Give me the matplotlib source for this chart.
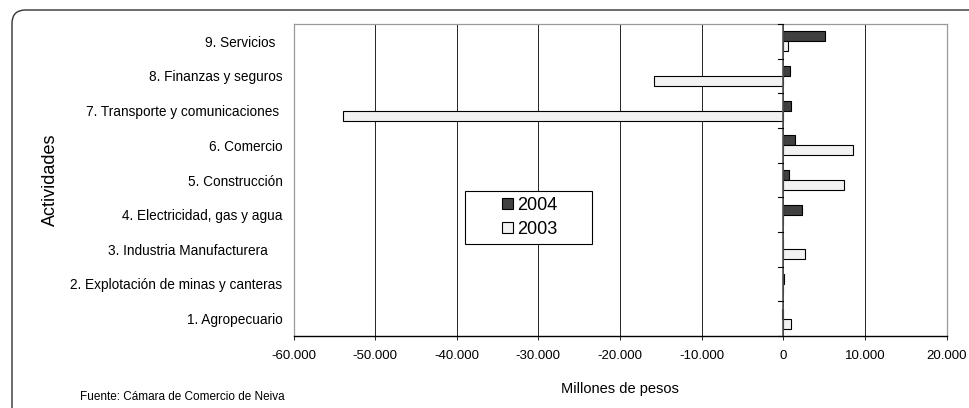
import matplotlib

matplotlib.use("Agg")
import matplotlib.pyplot as plt
import numpy as np
from matplotlib.patches import FancyBboxPatch, Patch, Rectangle
from matplotlib.ticker import FuncFormatter

plt.rcParams["font.family"] = ["Liberation Sans", "DejaVu Sans"]

# categories bottom -> top
actividades = [
    "1. Agropecuario",
    "2. Explotación de minas y canteras",
    "3. Industria Manufacturera    ",
    "4. Electricidad, gas y agua",
    "5. Construcción",
    "6. Comercio",
    "7. Transporte y comunicaciones ",
    "8. Finanzas y seguros",
    "9. Servicios  ",
]
valores_2004 = [-150, 150, 0, 2350, 700, 1400, 1000, 850, 5150]
valores_2003 = [1000, 0, 2650, 0, 7500, 8500, -53900, -15800, 550]
x_ticks = list(range(-60000, 20001, 10000))

W, H = 969, 408
fig = plt.figure(figsize=(W / 100, H / 100), dpi=100, facecolor="white")

# rounded frame around the chart (cut by the right and bottom edges)
frame = FancyBboxPatch((12 / W, -0.05), 1.05, 1.05 - 10 / H,
                       boxstyle="round,pad=0,rounding_size=0.014",
                       transform=fig.transFigure, facecolor="none",
                       edgecolor="#333333", linewidth=1.0,
                       mutation_aspect=W / H, zorder=10)
fig.patches.append(frame)

ax = fig.add_axes([293.5 / W, 1 - 336 / H, 653 / W, 312 / H])
ax.set_facecolor("white")

y = np.arange(len(actividades))
h = 0.29
ax.barh(y + h / 2, valores_2004, height=h, color="#404040", edgecolor="black",
        linewidth=0.8, label="2004", zorder=3)
ax.barh(y - h / 2, valores_2003, height=h, color="#f2f2f2", edgecolor="black",
        linewidth=0.8, label="2003", zorder=3)

ax.set_xlim(-60000, 20000)
ax.set_ylim(-0.5, len(actividades) - 0.5)
ax.set_xticks(x_ticks)
ax.xaxis.set_major_formatter(FuncFormatter(lambda v, p: f"{int(v):,}".replace(",", ".")))
ax.tick_params(axis="x", labelsize=9.5, length=3, width=0.6, pad=7)
ax.set_yticks(y)
ax.set_yticklabels(actividades, fontsize=9.8)
ax.tick_params(axis="y", length=0, pad=8)

ax.grid(axis="x", color="black", linewidth=0.6, zorder=0)
for s in ["top", "left", "right"]:
    ax.spines[s].set_color("#999999")
    ax.spines[s].set_linewidth(0.9)
ax.spines["bottom"].set_color("black")
ax.spines["bottom"].set_linewidth(1.0)

# category axis at zero with boundary ticks
ax.axvline(0, color="#555555", linewidth=1.2, zorder=4)
for b in np.arange(len(actividades) + 1) - 0.5:
    ax.plot([-600, 0], [b, b], color="black", linewidth=0.8, zorder=4, clip_on=False)

fig.text(50 / W, 1 - 180 / H, "Actividades", fontsize=13, rotation=90,
         ha="center", va="center")
fig.text(620 / W, 1 - 389 / H, "Millones de pesos", fontsize=10.5, ha="center", va="center")
fig.text(80 / W, 1 - 397 / H, "Fuente: Cámara de Comercio de Neiva", fontsize=8.5,
         ha="left", va="center")

# legend box (Excel-style wide frame)
ax.add_patch(Rectangle((0.263, 0.295), 0.194, 0.170, transform=ax.transAxes,
                       facecolor="white", edgecolor="black", linewidth=0.8, zorder=5))
handles = [Patch(facecolor="#404040", edgecolor="black", linewidth=0.8),
           Patch(facecolor="#f2f2f2", edgecolor="black", linewidth=0.8)]
leg = ax.legend(handles, ["2004", "2003"], loc="center", bbox_to_anchor=(0.362, 0.380),
                fontsize=13, frameon=False,
                handlelength=0.6, handleheight=0.6, handletextpad=0.25,
                borderpad=0.3, labelspacing=0.4, borderaxespad=0)
leg.set_zorder(6)

fig.savefig("out.png", dpi=100)
